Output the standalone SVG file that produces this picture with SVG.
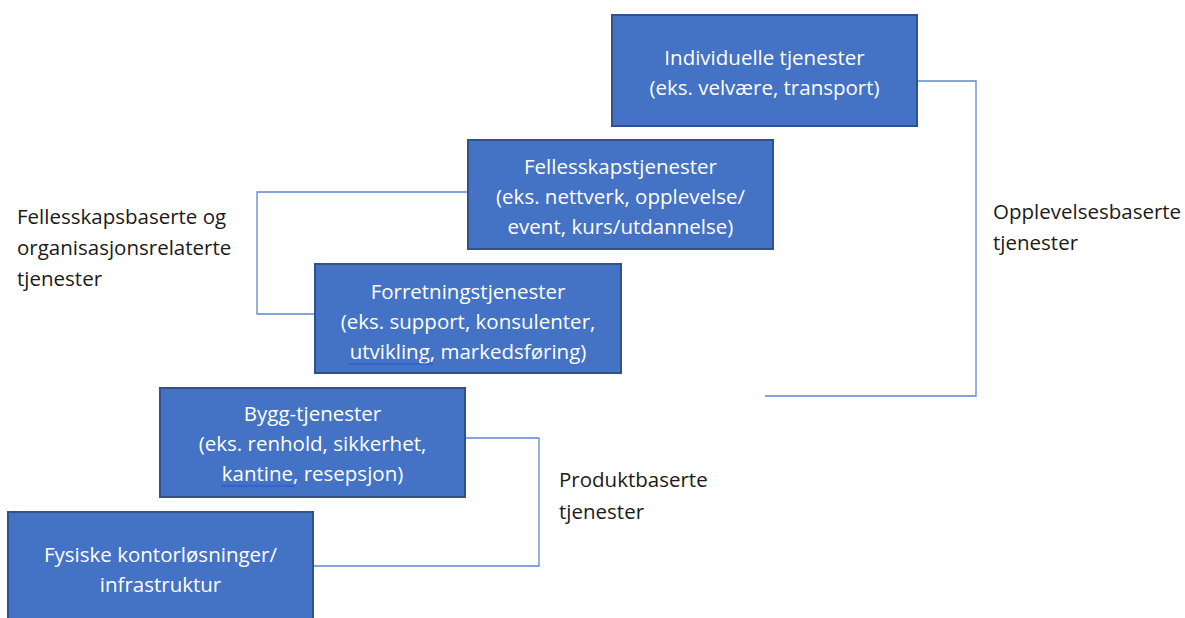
<svg xmlns="http://www.w3.org/2000/svg" width="1185" height="618" viewBox="0 0 1185 618">
  <style>
    .box { fill: #4472C4; stroke: #2F528F; stroke-width: 2; }
    .bt { fill: #FFFFFF; font-family: "Open Sans", "Liberation Sans", sans-serif; font-size: 20.5px; text-anchor: middle; }
    .lbl { fill: #1A1A1A; font-family: "Open Sans", "Liberation Sans", sans-serif; font-size: 20.5px; }
    .conn { fill: none; stroke: #5B87D2; stroke-width: 1.3; }
    .ul { stroke: #2F5FD0; stroke-width: 1.3; }
  </style>

  <!-- bracket connectors -->
  <g id="connectors">
    <polyline class="conn" points="917,81 976,81 976,396 765,396"/>
    <polyline class="conn" points="468,192 257,192 257,314 315,314"/>
    <polyline class="conn" points="465,438 539,438 539,566 313,566"/>
  </g>

  <g id="individuelle">
    <rect class="box" x="612" y="15" width="305" height="111"/>
    <text class="bt" x="764.5" y="65">Individuelle tjenester</text>
    <text class="bt" x="764.5" y="95">(eks. velvære, transport)</text>
  </g>

  <g id="fellesskap">
    <rect class="box" x="468" y="140" width="305" height="109"/>
    <text class="bt" x="620.5" y="174">Fellesskapstjenester</text>
    <text class="bt" x="620.5" y="204">(eks. nettverk, opplevelse/</text>
    <text class="bt" x="620.5" y="234">event, kurs/utdannelse)</text>
  </g>

  <g id="forretning">
    <rect class="box" x="315" y="264" width="306" height="109"/>
    <text class="bt" x="468" y="299">Forretningstjenester</text>
    <text class="bt" x="468" y="329">(eks. support, konsulenter,</text>
    <text class="bt" x="468" y="359">utvikling, markedsføring)</text>
    <line class="ul" x1="348" y1="364" x2="433" y2="364"/>
  </g>

  <g id="bygg">
    <rect class="box" x="160" y="388" width="305" height="109"/>
    <text class="bt" x="312.5" y="421">Bygg-tjenester</text>
    <text class="bt" x="312.5" y="451">(eks. renhold, sikkerhet,</text>
    <text class="bt" x="312.5" y="481">kantine, resepsjon)</text>
    <line class="ul" x1="221" y1="486" x2="295" y2="486"/>
  </g>

  <g id="fysiske">
    <rect class="box" x="8" y="512" width="305" height="110"/>
    <text class="bt" x="160.5" y="562">Fysiske kontorløsninger/</text>
    <text class="bt" x="160.5" y="592">infrastruktur</text>
  </g>

  <g id="label-opplevelse">
    <text class="lbl" x="993" y="219">Opplevelsesbaserte</text>
    <text class="lbl" x="993" y="250">tjenester</text>
  </g>

  <g id="label-fellesskap">
    <text class="lbl" x="17" y="224">Fellesskapsbaserte og</text>
    <text class="lbl" x="17" y="255">organisasjonsrelaterte</text>
    <text class="lbl" x="17" y="286">tjenester</text>
  </g>

  <g id="label-produkt">
    <text class="lbl" x="559" y="487">Produktbaserte</text>
    <text class="lbl" x="559" y="519">tjenester</text>
  </g>
</svg>
